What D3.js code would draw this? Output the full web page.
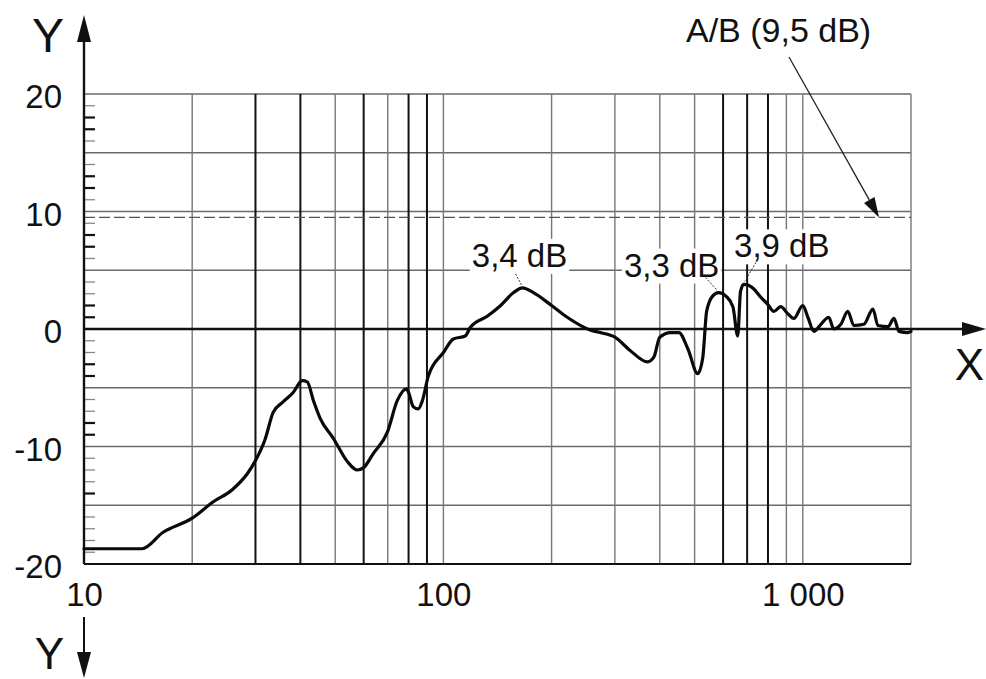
<!DOCTYPE html>
<html>
<head>
<meta charset="utf-8">
<script src="https://cdn.jsdelivr.net/npm/d3@7"></script>
<style>
  html, body { margin: 0; padding: 0; background: #fff; }
  svg { display: block; font-family: "Liberation Sans", Arial, sans-serif; }
</style>
</head>
<body>
<svg id="chart" width="986" height="679"></svg>
<script>
// ---- data ----
const freqs = [10, 14.5, 16.6, 20, 22.9, 25.8, 28.5, 30, 31.9, 33.6, 35.8, 38.2, 40.5, 41.8, 43.5, 45.4,
  49.4, 54.1, 57.6, 60, 63.8, 69.8, 74.4, 78.9, 80, 82.4, 85.1, 87.4, 90.8, 100, 106.6, 115, 118.9,
  132.7, 144.3, 156.8, 166, 178, 200, 221, 257, 273, 300, 330, 370, 385, 400, 429, 452, 479, 510, 527,
  540, 561, 583, 611, 639, 659, 671, 685, 708, 731, 764, 799, 830, 868, 908, 944, 1000, 1033, 1074,
  1123, 1181, 1219, 1276, 1334, 1387, 1479, 1567, 1618, 1726, 1794, 1851, 1960, 2000];
const gains = [-18.7, -18.7, -17.3, -16.1, -14.7, -13.7, -12.3, -11.2, -9.4, -7.1, -6.2, -5.4, -4.4, -4.5, -6.1, -7.6,
  -9.3, -11.3, -12.0, -11.8, -10.6, -8.8, -6.1, -5.1, -5.4, -6.6, -6.8, -6.1, -4.0, -2.0, -0.85, -0.6, 0.15,
  1.1, 2.0, 3.1, 3.5, 3.1, 2.0, 1.0, -0.1, -0.3, -0.7, -1.8, -2.8, -2.4, -0.7, -0.3, -0.3, -1.7, -3.8, -2.4,
  1.5, 2.8, 3.1, 2.8, 1.9, -0.6, 3.2, 3.8, 3.7, 3.4, 2.7, 2.1, 1.5, 1.9, 1.3, 0.9, 2.0, 1.0, -0.2,
  0.4, 1.0, 0.0, 0.4, 1.5, 0.3, 0.4, 1.7, 0.3, 0.2, 0.9, -0.2, -0.3, -0.2];

const xTickValues = [10, 100, 1000];
const xTickLabels = ["10", "100", "1 000"];
const yTickValues = [-20, -10, 0, 10, 20];
const vGrid = [20, 30, 40, 50, 60, 70, 80, 90, 100, 200, 300, 400, 500, 600, 700, 800, 900, 1000, 2000];
const vGridBold = [30, 40, 60, 80, 90, 600, 700, 800];
const hGrid = [-15, -10, -5, 5, 10, 15, 20];
const minorYTicks = [19, 18, 17, 16, 14, 13, 12, 11, 9, 8, 7, 6, 4, 3, 2, 1, -1, -2, -3, -4, -6, -7, -8, -9,
  -11, -12, -13, -14, -16, -17, -18, -19];
const minorYTicksBold = [18, 17, 13, 12, 8, 7, 2, 1, -3, -4, -8, -9, -14];
const refLevel = 9.5;
const refLabel = "A/B (9,5 dB)";
const refArrowFreq = 1630;
const peakLabels = ["3,4 dB", "3,3 dB", "3,9 dB"];
const peakFreqs = [166, 583, 685];
const peakGains = [3.5, 3.1, 3.8];
const axisXLabel = "X";
const axisYLabel = "Y";

// ---- layout ----
const svg = d3.select("#chart");
const x = d3.scaleLog().domain([10, 2000]).range([84, 911]);
const y = d3.scaleLinear().domain([-20, 20]).range([564, 94]);
const x0 = x(10), x1 = x(2000), yTop = y(20), yBot = y(-20), yZero = y(0);
const FONT = 33;

svg.append("rect").attr("width", 986).attr("height", 679).attr("fill", "#fff");

// horizontal grid
svg.append("g").selectAll("line").data(hGrid).join("line")
  .attr("x1", x0).attr("x2", x1)
  .attr("y1", d => y(d)).attr("y2", d => y(d))
  .attr("stroke", "#6a6a6a").attr("stroke-width", 1.4);

// vertical grid
svg.append("g").selectAll("line").data(vGrid).join("line")
  .attr("x1", d => x(d)).attr("x2", d => x(d))
  .attr("y1", yTop).attr("y2", yBot)
  .attr("stroke", d => vGridBold.includes(d) ? "#111" : "#777")
  .attr("stroke-width", d => vGridBold.includes(d) ? 2 : 1.4);

// reference dashed line
svg.append("line")
  .attr("x1", x0).attr("x2", x1).attr("y1", y(refLevel)).attr("y2", y(refLevel))
  .attr("stroke", "#555").attr("stroke-width", 1.4).attr("stroke-dasharray", "11,4");

// minor y ticks
svg.append("g").selectAll("line").data(minorYTicks).join("line")
  .attr("x1", x0).attr("x2", x0 + 11)
  .attr("y1", d => y(d)).attr("y2", d => y(d))
  .attr("stroke", d => minorYTicksBold.includes(d) ? "#111" : "#888")
  .attr("stroke-width", d => minorYTicksBold.includes(d) ? 2.2 : 1.3);

// bottom axis line and left axis line
svg.append("line").attr("x1", x0).attr("x2", x1).attr("y1", yBot).attr("y2", yBot)
  .attr("stroke", "#111").attr("stroke-width", 2.2);
svg.append("line").attr("x1", x0).attr("x2", x0).attr("y1", yBot).attr("y2", 30)
  .attr("stroke", "#111").attr("stroke-width", 2.4);
svg.append("path").attr("d", `M${x0},15 L${x0 - 7},42 L${x0 + 7},42 Z`).attr("fill", "#111");

// zero axis with arrow
svg.append("line").attr("x1", x0).attr("x2", 970).attr("y1", yZero).attr("y2", yZero)
  .attr("stroke", "#111").attr("stroke-width", 2.6);
svg.append("path").attr("d", `M986,${yZero} L962,${yZero - 7} L962,${yZero + 7} Z`).attr("fill", "#111");

// bottom down arrow
svg.append("line").attr("x1", x0).attr("x2", x0).attr("y1", 617).attr("y2", 660)
  .attr("stroke", "#111").attr("stroke-width", 2);
svg.append("path").attr("d", `M${x0},678 L${x0 - 7},652 L${x0 + 7},652 Z`).attr("fill", "#111");

// axis letters
svg.append("text").attr("x", 64).attr("y", 52).attr("text-anchor", "end")
  .attr("font-size", 48).attr("fill", "#111").text(axisYLabel);
svg.append("text").attr("x", 64).attr("y", 669).attr("text-anchor", "end")
  .attr("font-size", 44).attr("fill", "#111").text(axisYLabel);
svg.append("text").attr("x", 984).attr("y", 380).attr("text-anchor", "end")
  .attr("font-size", 44).attr("fill", "#111").text(axisXLabel);

// y tick labels through d3 axis
const yAxis = svg.append("g").attr("transform", `translate(${x0},0)`)
  .call(d3.axisLeft(y).tickValues(yTickValues).tickSize(0).tickPadding(22)
    .tickFormat(d => String(d)));
yAxis.select(".domain").remove();
yAxis.selectAll("text").attr("font-size", FONT).attr("font-family", "Liberation Sans, Arial, sans-serif")
  .attr("fill", "#111").attr("dy", "0.42em");

// x tick labels through d3 axis
const xAxis = svg.append("g").attr("transform", `translate(0,${yBot})`)
  .call(d3.axisBottom(x).tickValues(xTickValues).tickSize(0).tickPadding(19)
    .tickFormat((d, i) => xTickLabels[i]));
xAxis.select(".domain").remove();
xAxis.selectAll("text").attr("font-size", FONT).attr("font-family", "Liberation Sans, Arial, sans-serif")
  .attr("fill", "#111").attr("dy", "0.71em");

// peak labels with white background
const labelOffsets = [[-3, -21], [-47, -16], [38, -27]];
const leaderOffsets = [[-7, -14, -1, -3], [-13, -15, -2, -3], [14, -25, 1, -3]];
peakLabels.forEach((lab, i) => {
  const px = x(peakFreqs[i]), py = y(peakGains[i]);
  const tx = px + labelOffsets[i][0], ty = py + labelOffsets[i][1];
  const t = svg.append("text").attr("x", tx).attr("y", ty).attr("text-anchor", "middle")
    .attr("font-size", FONT).attr("fill", "#111").text(lab);
  const bb = t.node().getBBox();
  svg.insert("rect", () => t.node())
    .attr("x", bb.x - 2).attr("y", bb.y + 2).attr("width", bb.width + 4).attr("height", bb.height - 2)
    .attr("fill", "#fff");
  const lo = leaderOffsets[i];
  svg.append("line")
    .attr("x1", px + lo[0]).attr("y1", py + lo[1]).attr("x2", px + lo[2]).attr("y2", py + lo[3])
    .attr("stroke", "#333").attr("stroke-width", 1).attr("stroke-dasharray", "2,1.5");
});

// curve
const pts = freqs.map((f, i) => [x(f), y(gains[i])]);
svg.append("path")
  .attr("d", d3.line().curve(d3.curveMonotoneX)(pts))
  .attr("fill", "none").attr("stroke", "#0a0a0a").attr("stroke-width", 3.2)
  .attr("stroke-linejoin", "round").attr("stroke-linecap", "round");

// A/B annotation
svg.append("text").attr("x", 686).attr("y", 42).attr("font-size", 34).attr("fill", "#111").text(refLabel);
const ax1 = 789, ay1 = 57, ax2 = x(refArrowFreq), ay2 = y(refLevel);
{
  const ang = Math.atan2(ay2 - ay1, ax2 - ax1);
  const L = 20, W = 6;
  const bx = ax2 - L * Math.cos(ang), by = ay2 - L * Math.sin(ang);
  const nx = -Math.sin(ang), ny = Math.cos(ang);
  svg.append("line").attr("x1", ax1).attr("y1", ay1).attr("x2", bx).attr("y2", by)
    .attr("stroke", "#222").attr("stroke-width", 1.3);
  svg.append("path")
    .attr("d", `M${ax2},${ay2} L${bx + nx * W},${by + ny * W} L${bx - nx * W},${by - ny * W} Z`)
    .attr("fill", "#111");
}
</script>
</body>
</html>
